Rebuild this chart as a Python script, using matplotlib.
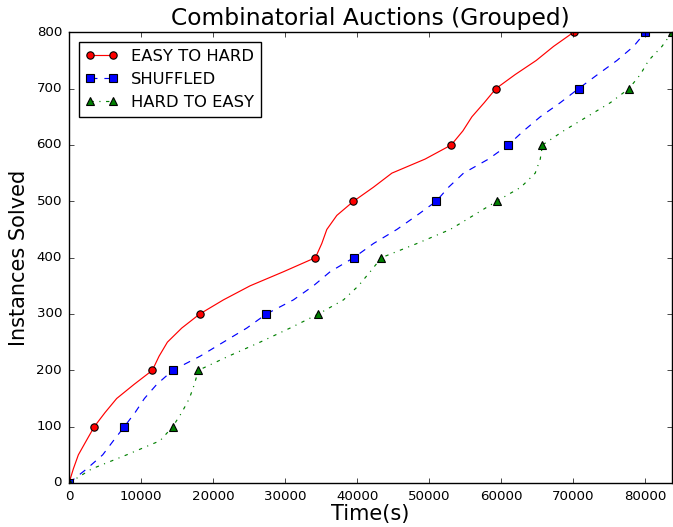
import numpy as np
import matplotlib
matplotlib.use("Agg")
import matplotlib.pyplot as plt

plt.style.use("classic")

# Instances solved (y) sampled every 25 instances
instances = list(range(0, 801, 25))

easy_to_hard = [0, 600, 1300, 2400, 3510, 5000, 6620, 9030, 11570, 12500, 13660, 15650, 18150,
                21430, 25140, 29770, 34210, 35090, 35790, 37180, 39490, 42260, 44820, 49440,
                53060, 54680, 55930, 57640, 59260, 61940, 64860, 67270, 70040]
shuffled = [0, 2450, 4680, 6160, 7680, 9170, 10470, 12180, 14400, 18190, 21430, 24680, 27400,
            31150, 33930, 36250, 39540, 42260, 45510, 48290, 50970, 52690, 54770, 58240,
            60970, 63100, 65420, 68190, 70740, 73380, 76070, 78380, 80000]
hard_to_easy = [0, 3150, 8010, 12640, 14400, 15650, 16710, 17400, 17960, 22130, 26530, 30690, 34630,
                38100, 40180, 41810, 43380, 48290, 52920, 56150, 59350, 62730, 64720, 65420,
                65730, 68650, 71900, 75140, 77730, 79310, 80460, 82320, 83710]

labels = ["EASY TO HARD", "SHUFFLED", "HARD TO EASY"]
xticks = [0, 10000, 20000, 30000, 40000, 50000, 60000, 70000, 80000]
yticks = [0, 100, 200, 300, 400, 500, 600, 700, 800]

fig = plt.figure(figsize=(6.73, 5.27), dpi=100, facecolor="white")
ax = fig.add_axes([69/673, 44/527, 603/673, 450.7/527])
ax.set_facecolor("white")

lw = 0.85
ms = 5.3
ax.plot(easy_to_hard, instances, color="r", linestyle="-", linewidth=lw, marker="o",
        markersize=ms, markevery=4, markeredgecolor="k", markeredgewidth=0.8, label=labels[0])
ax.plot(shuffled, instances, color="b", linestyle=(0, (5, 5)), linewidth=lw, marker="s",
        markersize=ms, markevery=4, markeredgecolor="k", markeredgewidth=0.8, label=labels[1])
ax.plot(hard_to_easy, instances, color="g", linestyle=(0, (2.4, 4, 0.8, 4)), linewidth=lw, marker="^",
        markersize=ms, markevery=4, markeredgecolor="k", markeredgewidth=0.8, label=labels[2])

ax.set_xlim(0, max(hard_to_easy))
ax.set_ylim(0, 800)
ax.set_xticks(xticks)
ax.set_yticks(yticks)
ax.tick_params(labelsize=9.6, direction="in", length=3.5, top=True, right=True, pad=5)
ax.set_title("Combinatorial Auctions (Grouped)", fontsize=16.8, pad=5)
ax.set_xlabel("Time(s)", fontsize=15, labelpad=1)
ax.set_ylabel("Instances Solved", fontsize=15)
ax.legend(loc="upper left", fontsize=11.8, numpoints=2, fancybox=False,
          borderaxespad=0.6, handlelength=2.0)

fig.savefig("out.png", dpi=100, facecolor="white")
